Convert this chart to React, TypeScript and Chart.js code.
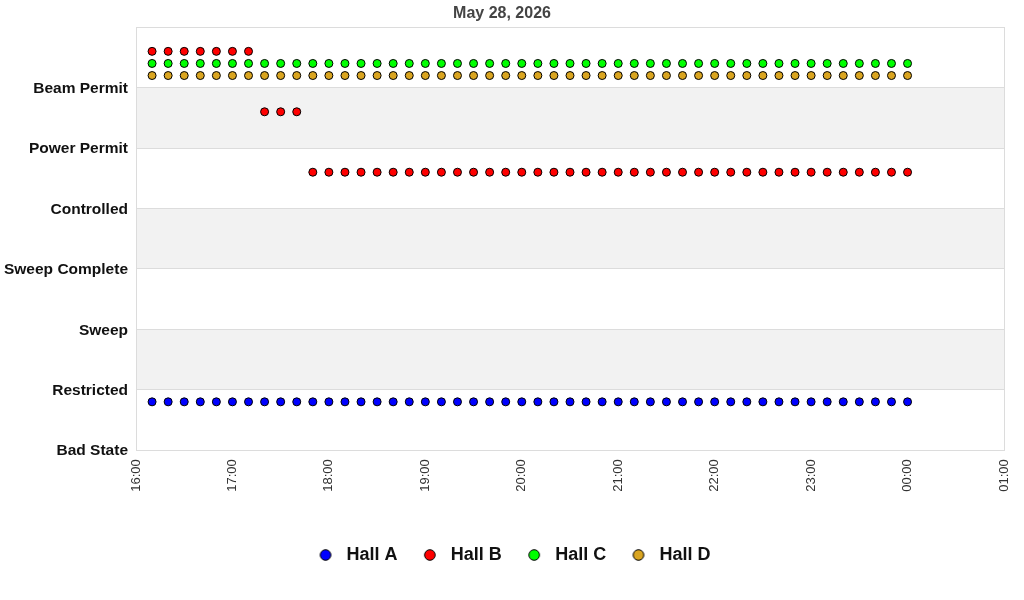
import React, { useEffect, useRef } from "react";
import { Chart, registerables } from "chart.js";

Chart.register(...registerables);

const FONT = "'Liberation Sans', Arial, Helvetica, sans-serif";

const chartTitle = "May 28, 2026";

const stateLabels = [
  "Bad State",
  "Restricted",
  "Sweep",
  "Sweep Complete",
  "Controlled",
  "Power Permit",
  "Beam Permit",
];

const xTickLabels = ["16:00", "17:00", "18:00", "19:00", "20:00", "21:00", "22:00", "23:00", "00:00", "01:00"];

const sampleTimes = [
  "16:10", "16:20", "16:30", "16:40", "16:50", "17:00", "17:10", "17:20", "17:30", "17:40", "17:50", "18:00",
  "18:10", "18:20", "18:30", "18:40", "18:50", "19:00", "19:10", "19:20", "19:30", "19:40", "19:50", "20:00",
  "20:10", "20:20", "20:30", "20:40", "20:50", "21:00", "21:10", "21:20", "21:30", "21:40", "21:50", "22:00",
  "22:10", "22:20", "22:30", "22:40", "22:50", "23:00", "23:10", "23:20", "23:30", "23:40", "23:50", "00:00",
];

const hallA = [
  0.8, 0.8, 0.8, 0.8, 0.8, 0.8, 0.8, 0.8, 0.8, 0.8, 0.8, 0.8,
  0.8, 0.8, 0.8, 0.8, 0.8, 0.8, 0.8, 0.8, 0.8, 0.8, 0.8, 0.8,
  0.8, 0.8, 0.8, 0.8, 0.8, 0.8, 0.8, 0.8, 0.8, 0.8, 0.8, 0.8,
  0.8, 0.8, 0.8, 0.8, 0.8, 0.8, 0.8, 0.8, 0.8, 0.8, 0.8, 0.8,
];

const hallB = [
  6.6, 6.6, 6.6, 6.6, 6.6, 6.6, 6.6, 5.6, 5.6, 5.6, 4.6, 4.6,
  4.6, 4.6, 4.6, 4.6, 4.6, 4.6, 4.6, 4.6, 4.6, 4.6, 4.6, 4.6,
  4.6, 4.6, 4.6, 4.6, 4.6, 4.6, 4.6, 4.6, 4.6, 4.6, 4.6, 4.6,
  4.6, 4.6, 4.6, 4.6, 4.6, 4.6, 4.6, 4.6, 4.6, 4.6, 4.6, 4.6,
];

const hallC = [
  6.4, 6.4, 6.4, 6.4, 6.4, 6.4, 6.4, 6.4, 6.4, 6.4, 6.4, 6.4,
  6.4, 6.4, 6.4, 6.4, 6.4, 6.4, 6.4, 6.4, 6.4, 6.4, 6.4, 6.4,
  6.4, 6.4, 6.4, 6.4, 6.4, 6.4, 6.4, 6.4, 6.4, 6.4, 6.4, 6.4,
  6.4, 6.4, 6.4, 6.4, 6.4, 6.4, 6.4, 6.4, 6.4, 6.4, 6.4, 6.4,
];

const hallD = [
  6.2, 6.2, 6.2, 6.2, 6.2, 6.2, 6.2, 6.2, 6.2, 6.2, 6.2, 6.2,
  6.2, 6.2, 6.2, 6.2, 6.2, 6.2, 6.2, 6.2, 6.2, 6.2, 6.2, 6.2,
  6.2, 6.2, 6.2, 6.2, 6.2, 6.2, 6.2, 6.2, 6.2, 6.2, 6.2, 6.2,
  6.2, 6.2, 6.2, 6.2, 6.2, 6.2, 6.2, 6.2, 6.2, 6.2, 6.2, 6.2,
];

const seriesNames = ["Hall A", "Hall B", "Hall C", "Hall D"];
const seriesColors = ["#0000ff", "#ff0000", "#00ff00", "#daa520"];

// convert "HH:MM" to minutes; hours after midnight continue the same day axis
function toMinutes(t: string): number {
  const [h, m] = t.split(":").map(Number);
  const hh = h < 12 ? h + 24 : h;
  return hh * 60 + m;
}

const xMin = toMinutes(xTickLabels[0]);
const xMax = toMinutes(xTickLabels[xTickLabels.length - 1]);

// legend marker image: circle shifted left so the gap to the text is wider
function makeLegendMarker(color: string): HTMLCanvasElement {
  const c = document.createElement("canvas");
  c.width = 24;
  c.height = 14;
  const g = c.getContext("2d")!;
  g.beginPath();
  g.arc(9, 7, 5.3, 0, Math.PI * 2);
  g.fillStyle = color;
  g.fill();
  g.lineWidth = 1;
  g.strokeStyle = "#000000";
  g.stroke();
  return c;
}

const bandPlugin = {
  id: "bands",
  afterLayout(chart: any) {
    if (chart.legend) {
      chart.legend.left += 13;
      chart.legend.right += 13;
    }
  },
  beforeDraw(chart: any) {
    const { ctx, chartArea, scales } = chart;
    const y = scales.y;
    ctx.save();
    ctx.fillStyle = "#ffffff";
    ctx.fillRect(0, 0, chart.width, chart.height);
    ctx.fillStyle = "#f2f2f2";
    for (let v = 1; v < 7; v += 2) {
      const top = y.getPixelForValue(v + 1);
      const bot = y.getPixelForValue(v);
      ctx.fillRect(chartArea.left, top, chartArea.right - chartArea.left, bot - top);
    }
    ctx.restore();
  },
  beforeDatasetsDraw(chart: any) {
    const { ctx, chartArea } = chart;
    ctx.save();
    ctx.strokeStyle = "#dcdcdc";
    ctx.lineWidth = 1;
    ctx.strokeRect(
      Math.round(chartArea.left) + 0.5,
      Math.round(chartArea.top) + 0.5,
      Math.round(chartArea.right - chartArea.left),
      Math.round(chartArea.bottom - chartArea.top)
    );
    ctx.restore();
  },
};

export default function App() {
  const ref = useRef<HTMLCanvasElement | null>(null);

  useEffect(() => {
    if (!ref.current) return;
    const markers = seriesColors.map((c) => makeLegendMarker(c));
    const datasets = [hallA, hallB, hallC, hallD].map((vals, i) => ({
      label: seriesNames[i],
      data: vals.map((v, j) => ({ x: toMinutes(sampleTimes[j]), y: v })),
      showLine: false,
      pointRadius: 4,
      pointHoverRadius: 4,
      pointBackgroundColor: seriesColors[i],
      pointBorderColor: "#000000",
      pointBorderWidth: 1,
      backgroundColor: seriesColors[i],
      borderColor: "#000000",
      borderWidth: 1,
    }));

    const chart = new Chart(ref.current, {
      type: "scatter",
      data: { datasets },
      plugins: [bandPlugin],
      options: {
        animation: false,
        responsive: false,
        layout: { padding: { left: 0, right: 20, top: 0, bottom: 26 } },
        plugins: {
          title: {
            display: true,
            text: chartTitle,
            color: "#444444",
            font: { family: FONT, size: 16, weight: "bold" },
            padding: { top: 4, bottom: 4 },
          },
          legend: {
            position: "bottom",
            labels: {
              usePointStyle: true,
              boxWidth: 18,
              boxHeight: 7.5,
              padding: 26.3,
              color: "#111111",
              font: { family: FONT, size: 18, weight: "bold" },
              generateLabels(chart: any) {
                const items = Chart.defaults.plugins.legend.labels.generateLabels(chart);
                items.forEach((it: any, i: number) => {
                  it.pointStyle = markers[i];
                });
                return items;
              },
            },
          },
          tooltip: { enabled: false },
        },
        scales: {
          x: {
            type: "linear",
            min: xMin,
            max: xMax,
            afterFit(scale: any) {
              scale.height += 19;
              scale.paddingLeft = 0;
              scale.paddingRight = 0;
            },
            afterBuildTicks(scale: any) {
              scale.ticks = xTickLabels.map((t) => ({ value: toMinutes(t) }));
            },
            ticks: {
              autoSkip: false,
              minRotation: 90,
              maxRotation: 90,
              padding: 9,
              color: "#333333",
              font: { family: FONT, size: 13 },
              callback(value: any) {
                const idx = xTickLabels.findIndex((t) => toMinutes(t) === value);
                return idx >= 0 ? xTickLabels[idx] : "";
              },
            },
            grid: { display: false, drawTicks: false },
            border: { display: false },
          },
          y: {
            type: "linear",
            min: 0,
            max: 7,
            afterFit(scale: any) {
              scale.width = 136;
            },
            afterBuildTicks(scale: any) {
              scale.ticks = [0, 1, 2, 3, 4, 5, 6, 7].map((v) => ({ value: v }));
            },
            ticks: {
              autoSkip: false,
              padding: 8,
              labelOffset: 1,
              color: "#111111",
              font: { family: FONT, size: 15.5, weight: "bold" },
              callback(value: any) {
                return stateLabels[value] ?? "";
              },
            },
            grid: { color: "#dcdcdc", drawTicks: false, lineWidth: 1 },
            border: { display: false },
          },
        },
      },
    });
    return () => chart.destroy();
  }, []);

  return (
    <div style={{ position: "absolute", left: 0, top: 0, width: 1024, height: 600, background: "#fff" }}>
      <canvas ref={ref} width={1024} height={600} />
    </div>
  );
}
